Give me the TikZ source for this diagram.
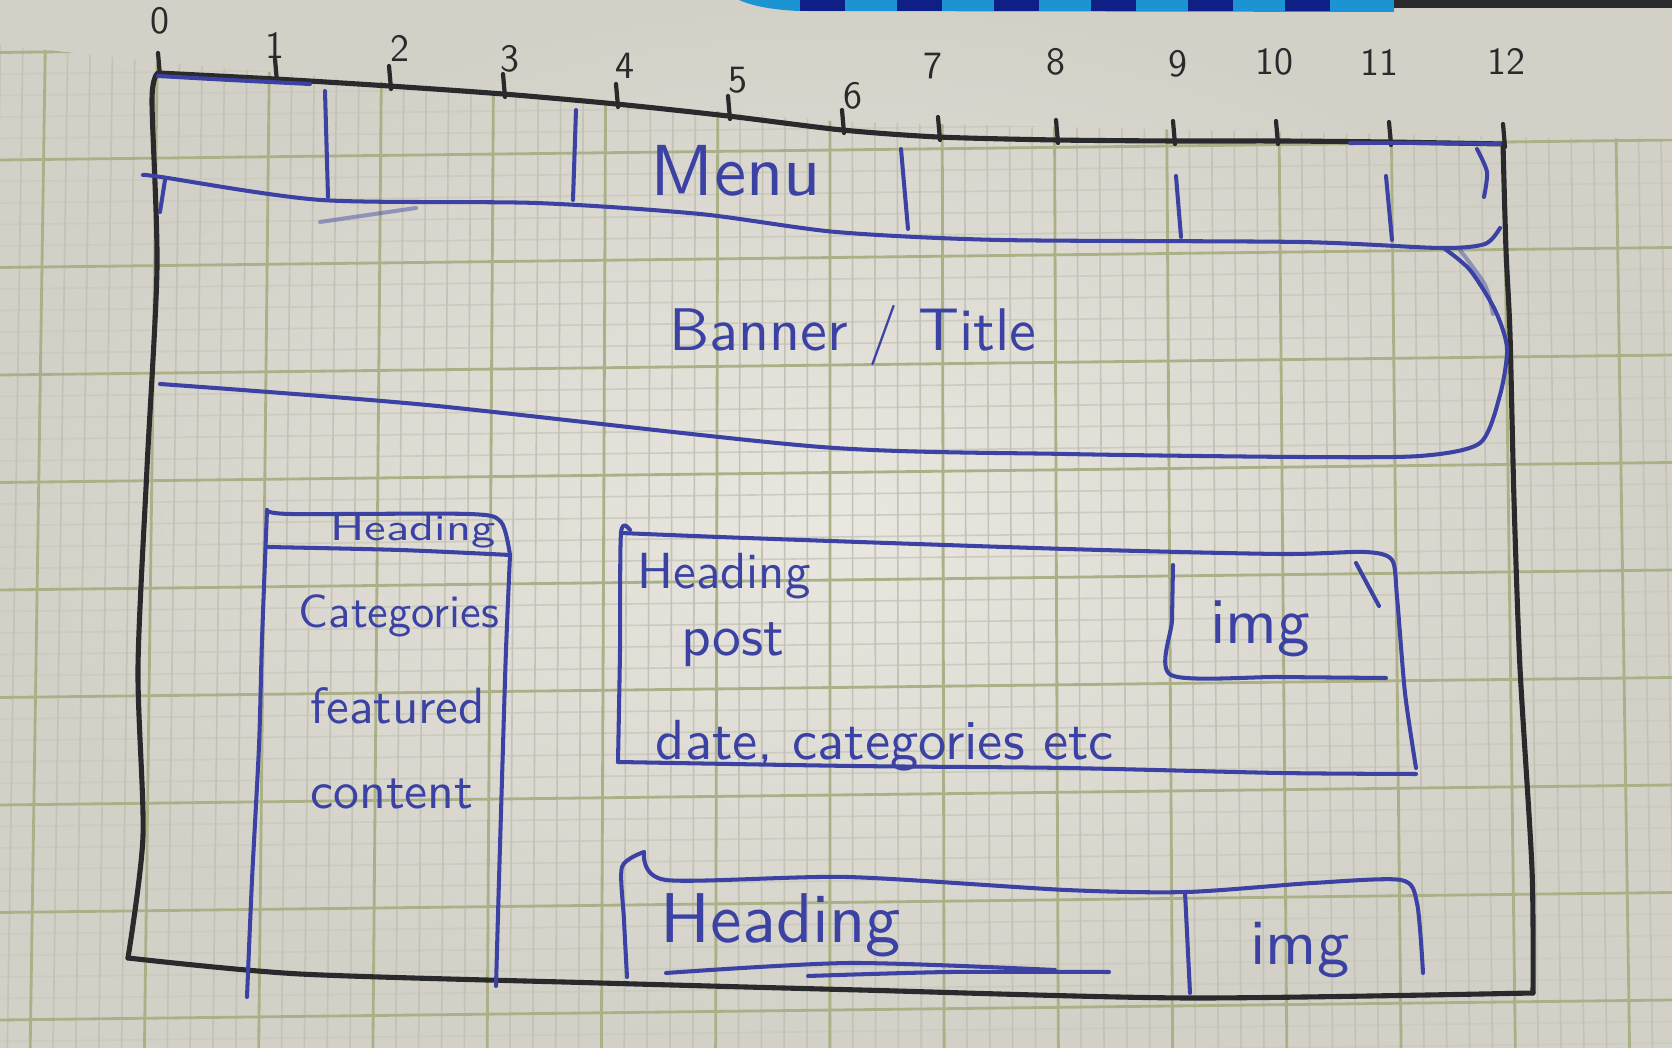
\documentclass[tikz,border=0pt]{standalone}
\usepackage{graphicx}
\definecolor{paperin}{HTML}{E9E7DF}
\definecolor{paperout}{HTML}{D2D0C7}
\definecolor{gridminor}{HTML}{C2C2B5}
\definecolor{gridminorh}{HTML}{CBCBBF}
\definecolor{gridmajor}{HTML}{ABB187}
\definecolor{inkblue}{HTML}{3B42A4}
\definecolor{inkblack}{HTML}{2A292B}
\definecolor{stripblue}{HTML}{1C93D3}
\definecolor{stripnavy}{HTML}{0E1F86}
\begin{document}
\begin{tikzpicture}[x=0.1mm,y=-0.1mm,
  minorline/.style={draw=gridminor, line width=0.45pt},
  minorhline/.style={draw=gridminorh, line width=0.45pt},
  majorline/.style={draw=gridmajor, line width=0.8pt},
  ink/.style={draw=inkblue, line width=1.15pt, line cap=round, line join=round},
  faintink/.style={ink, draw opacity=0.45},
  pencil/.style={draw=inkblack, line width=1.45pt, line cap=round, line join=round},
  scribble/.style={text=inkblue, inner sep=0pt, font=\sffamily},
  digit/.style={text=inkblack, inner sep=0pt, font=\fontsize{11}{13}\selectfont\sffamily},
  wavy/.style={smooth, tension=0.45}]

% sheet of paper
\useasboundingbox (0,0) rectangle (1672,1048);
\shade[inner color=paperin, outer color=paperout] (0,0) rectangle (1672,1048);

% printed squared grid
\begin{scope}
  \clip (0,45) -- (158,62) -- (842,122) -- (1503,137) -- (1672,139) -- (1672,1048) -- (0,1048) -- cycle;
  \foreach \j in {-6,...,42} {
    \pgfmathsetmacro\yr{140+21.5*\j}
    \pgfmathsetmacro\yl{\yr+20}
    \pgfmathtruncatemacro\m{mod(\j+100,5)}
    \ifnum\m=0 \else \draw[minorhline] (0,\yl) -- (1672,\yr); \fi
  }
  \foreach \i in {-7,...,68} {
    \pgfmathsetmacro\xt{158+22.4*\i}
    \pgfmathsetmacro\xb{\xt+(\xt-836)*0.02}
    \pgfmathtruncatemacro\m{mod(\i+100,5)}
    \ifnum\m=0 \else \draw[minorline] (\xt,0) -- (\xb,1048); \fi
  }
  \foreach \i in {-5,0,...,65} {
    \pgfmathsetmacro\xt{158+22.4*\i}
    \pgfmathsetmacro\xb{\xt+(\xt-836)*0.02}
    \draw[majorline] (\xt,0) -- (\xb,1048);
  }
  \foreach \j in {-5,0,...,40} {
    \pgfmathsetmacro\yr{140+21.5*\j}
    \pgfmathsetmacro\yl{\yr+20}
    \draw[majorline] (0,\yl) -- (1672,\yr);
  }
\end{scope}

% strip of the cover at the top edge
\fill[stripblue] (739,0) -- (1394,0) -- (1394,12) -- (800,11) .. controls (770,10) and (750,5) .. (739,0) -- cycle;
\foreach \k in {0,...,5} {
  \fill[stripnavy] (800+97*\k,0) rectangle (845+97*\k,11);
}
\fill[inkblack] (1394,0) rectangle (1672,8);

% outer page frame (pencil)
\coordinate (tl) at (158,73);
\coordinate (tr) at (1503,144);
\coordinate (br) at (1533,993);
\coordinate (bl) at (128,958);
\draw[pencil] plot[wavy] coordinates {(tl) (275,79) (389,86) (503,94) (616,104) (728,116) (842,130) (938,137) (1056,140) (1173,141) (1280,141) (1386,142) (tr)};
\draw[pencil] plot[wavy] coordinates {(tr) (1506,250) (1510,334) (1514,500) (1520,668) (1532,869) (br)};
\draw[pencil] plot[wavy] coordinates {(bl) (300,974) (600,983) (860,990) (1187,998) (br)};
\draw[pencil] plot[wavy] coordinates {(tl) (152,100) (157,267) (147,468) (138,668) (143,836) (bl)};

% column ruler 0..12
\foreach \x/\y in {158/73,275/79,389/86,503/94,616/104,728/116,842/130,938/137,1056/140,1173/141,1276/141,1389/142,1503/144} {
  \draw[pencil, line width=1.2pt] (\x,\y-20) -- (\x+2,\y+3);
}
\node[digit] (r0) at (160,21) {0};
\node[digit] (r1) at (275,45) {1};
\node[digit] (r2) at (400,48) {2};
\node[digit] (r3) at (510,59) {3};
\node[digit] (r4) at (625,66) {4};
\node[digit] (r5) at (738,80) {5};
\node[digit] (r6) at (853,96) {6};
\node[digit] (r7) at (933,66) {7};
\node[digit] (r8) at (1056,62) {8};
\node[digit] (r9) at (1178,64) {9};
\node[digit] (r10) at (1274,62) {10};
\node[digit] (r11) at (1379,62) {11};
\node[digit] (r12) at (1506,61) {12};

% menu bar
\draw[ink] plot[wavy] coordinates {(158,76) (230,80) (310,84)};
\draw[ink] plot[wavy] coordinates {(1350,143) (1420,143) (1500,144)};
\draw[ink] plot[wavy] coordinates {(143,175) (161,177) (321,200) (536,203) (700,214) (836,232) (1000,240) (1300,242) (1440,248) (1485,244) (1500,228)};
\draw[ink] (165,180) -- (160,212);
\draw[faintink] (320,222) -- (416,208);
\draw[ink] (325,91) -- (328,197);
\draw[ink] (576,110) -- (573,200);
\draw[ink] (901,149) -- (908,229);
\draw[ink] (1176,176) -- (1181,237);
\draw[ink] (1386,176) -- (1392,240);
\draw[ink] plot[wavy] coordinates {(1477,149) (1487,172) (1484,197)};
\node[scribble] (menu) at (736,171) {\resizebox{17mm}{!}{Menu}};

% banner / title block
\draw[ink] plot[wavy] coordinates {(160,384) (427,405) (821,447) (1066,454) (1300,457) (1420,456) (1480,443) (1500,395) (1507,348) (1495,310) (1470,270) (1445,249)};
\draw[faintink] plot[wavy] coordinates {(1460,250) (1485,285) (1493,314)};
\node[scribble] (banner) at (853,335) {\resizebox{36.7mm}{!}{Banner / Title}};

% sidebar
\draw[ink] plot[wavy] coordinates {(267,510) (290,514) (469,514) (501,522) (510,555)};
\draw[ink] plot[wavy] coordinates {(267,547) (400,550) (510,555)};
\draw[ink] plot[wavy] coordinates {(267,510) (262,640) (259,746) (252,880) (247,997)};
\draw[ink] plot[wavy] coordinates {(510,555) (506,650) (503,746) (499,880) (496,986)};
\node[scribble] (sidehead) at (413,531) {\resizebox{16.5mm}{2.6mm}{Heading}};
\node[scribble] (sidecats) at (399,616) {\resizebox{20mm}{!}{Categories}};
\node[scribble] (sidefeat) at (398,706) {\resizebox{17.4mm}{!}{featured}};
\node[scribble] (sidecont) at (392,794) {\resizebox{16.3mm}{!}{content}};

% post teaser
\draw[ink] plot[wavy] coordinates {(630,530) (621,533) (620,650) (618,762)};
\draw[ink] plot[wavy] coordinates {(621,533) (746,538) (1066,549) (1280,554) (1365,552) (1392,560) (1397,597) (1405,693) (1416,768)};
\draw[ink] plot[wavy] coordinates {(618,762) (853,766) (1066,768) (1280,773) (1416,774)};
\draw[ink] plot[wavy] coordinates {(1173,565) (1172,620) (1171,675) (1280,677) (1386,678)};
\draw[ink] (1356,563) -- (1379,606);
\node[scribble] (posthead) at (724,576) {\resizebox{17.3mm}{!}{Heading}};
\node[scribble] (postbody) at (733,645) {\resizebox{10.3mm}{!}{post}};
\node[scribble] (postmeta) at (885,746) {\resizebox{45.8mm}{!}{date, categories etc}};
\node[scribble] (postimg) at (1260,629) {\resizebox{10mm}{!}{img}};

% second teaser
\draw[ink] plot[wavy] coordinates {(644,852) (622,867) (624,920) (627,977)};
\draw[ink] plot[wavy] coordinates {(644,852) (666,880) (847,877) (1066,890) (1187,892) (1313,883) (1401,880) (1417,903) (1423,973)};
\draw[ink] (1185,892) -- (1190,993);
\draw[ink] plot[wavy] coordinates {(666,973) (850,963) (1055,970)};
\draw[ink] plot[wavy] coordinates {(808,976) (950,972) (1109,972)};
\node[scribble] (nexthead) at (781,925) {\resizebox{24mm}{!}{Heading}};
\node[scribble] (nextimg) at (1300,950) {\resizebox{9.9mm}{!}{img}};
\end{tikzpicture}
\end{document}
